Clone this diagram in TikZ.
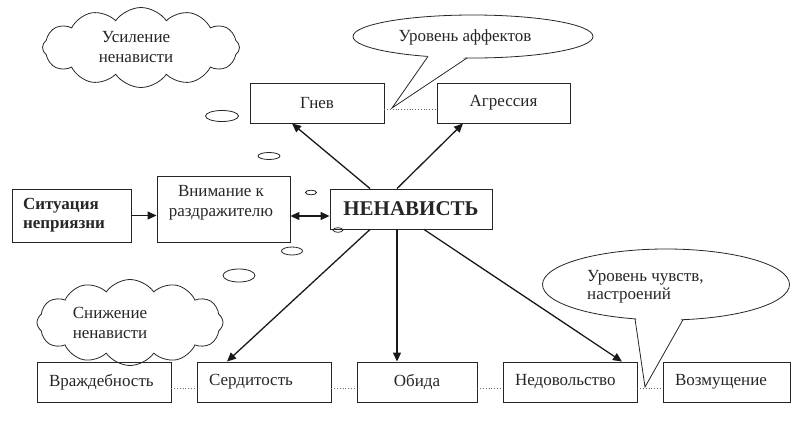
\documentclass[tikz,border=0pt]{standalone}
\usepackage{fontspec}
\setmainfont{Liberation Serif}
\usetikzlibrary{shapes.geometric,shapes.symbols,arrows.meta,calc}
\begin{document}
\begin{tikzpicture}[x=1pt,y=-1pt,
  box/.style={draw=black!85, line width=0.9pt, minimum height=40pt, inner sep=0pt, font=\fontsize{17}{20}\selectfont, text=black!85},
  lbox/.style={box, align=left, inner xsep=12pt},
  arr/.style={line width=1.3pt, draw=black!90, -{Triangle[length=9pt,width=8pt]}},
  dots/.style={dotted, line width=0.8pt, draw=black!60},
  bub/.style={ellipse, draw=black!85, line width=0.8pt, inner sep=0pt},
  thin/.style={line width=0.8pt, draw=black!85},
  txt/.style={font=\fontsize{17}{20}\selectfont, text=black!85, align=center, inner sep=0pt},
  cld/.style={cloud, draw=black!85, line width=0.8pt, cloud puffs=12, cloud puff arc=110, cloud ignores aspect, inner sep=0pt, fill=white}
]
\useasboundingbox (0,0) rectangle (805,426);

% clouds
\node[cld, minimum width=197pt, minimum height=80pt] (c1) at (141,47.5) {};
\node[txt] (c1t) at (136,47.5) {Усиление\\ненависти};
\node[cld, minimum width=186pt, minimum height=86pt] (c2) at (130,322.5) {};
\node[txt] (c2t) at (110,323) {Снижение\\ненависти};

% speech bubbles
\node[bub, minimum width=240pt, minimum height=43pt] (e1) at (473,36.5) {};
\coordinate (t1) at (392,108);
\fill[white] (429,54.5) -- (t1) -- (466,56.5) -- cycle;
\draw[thin] (428,56.4) -- (t1) -- (467,58);
\node[txt] (e1t) at (465,37) {Уровень аффектов};

\node[bub, minimum width=247pt, minimum height=71pt] (e2) at (666,284.5) {};
\coordinate (t2) at (645,387);
\fill[white] (636,317) -- (t2) -- (682,317.8) -- cycle;
\draw[thin] (635,318.9) -- (t2) -- (683,319.7);
\node[txt, align=left, anchor=west, font=\fontsize{17}{18}\selectfont] (e2t) at (587,287) {Уровень чувств,\\настроений};

% small thought ellipses
\draw[thin] (222,116) ellipse [x radius=16.5, y radius=5.5];
\draw[thin] (269,156) ellipse [x radius=11, y radius=3.5];
\draw[thin] (311,192.5) ellipse [x radius=5.5, y radius=2.3];
\draw[thin] (338,230) ellipse [x radius=5, y radius=2.3];
\draw[thin] (292,251) ellipse [x radius=10.5, y radius=4];
\draw[thin] (239,275.5) ellipse [x radius=16, y radius=6.5];

% boxes
\node[box, minimum width=134pt] (g) at (317,103) {Гнев};
\node[box, minimum width=133pt] (ag) at (503.5,103) {Агрессия};
\node[lbox, text width=97pt, minimum height=53pt, inner xsep=11pt, font=\fontsize{17}{19}\selectfont\bfseries] (sit) at (71.5,215.5) {Ситуация\\неприязни};
\node[box, minimum width=133pt, minimum height=66pt] (vn) at (223.5,209) {};
\node[txt] (vnt) at (221,203) {Внимание к\\раздражителю};
\node[box, minimum width=162pt, font=\fontsize{21}{24}\selectfont\bfseries] (n) at (411,209) {НЕНАВИСТЬ};

\node[lbox, text width=110pt] (vr) at (104,382) {Враждебность};
\node[lbox, text width=110pt] (se) at (264,382) {Сердитость};
\node[box, minimum width=120pt] (ob) at (417,382) {Обида};
\node[lbox, text width=110pt] (ne) at (570,382) {Недовольство};
\node[lbox, text width=103pt] (vz) at (726.5,382) {Возмущение};

% dotted links
\draw[dots] ($(g.east)+(0,6)$) -- ($(ag.west)+(0,6)$);
\foreach \a/\b in {vr/se,se/ob,ob/ne,ne/vz}
  \draw[dots] ($(\a.east)+(0,6)$) -- ($(\b.west)+(0,6)$);

% arrows
\draw[arr] ($(n.north)+(-41,0)$) -- ($(g.south)+(-25,0)$);
\draw[arr] ($(n.north)+(-14,0)$) -- ($(ag.south)+(-40.5,0)$);
\draw[arr] ($(n.south)+(-41,0)$) -- ($(se.north)+(-37,0)$);
\draw[arr] ($(n.south)+(-14,0)$) -- ($(ob.north)+(-20,0)$);
\draw[arr] ($(n.south)+(13,0)$) -- ($(ne.north)+(52,0)$);
\draw[arr] (sit.east) -- (sit.east -| vn.west);
\draw[arr, {Triangle[length=9pt,width=8pt]}-{Triangle[length=9pt,width=8pt]}] ($(vn.east)+(0,7)$) -- ($(n.west)+(0,7)$);
\end{tikzpicture}
\end{document}
